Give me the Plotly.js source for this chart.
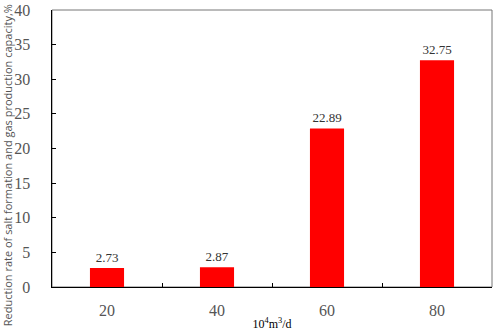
<!DOCTYPE html>
<html>
<head>
<meta charset="utf-8">
<script src="https://cdn.plot.ly/plotly-3.0.1.min.js"></script>
<style>html,body{margin:0;padding:0;background:#fff;}#chart{width:498px;height:331px;}</style>
</head>
<body>
<div id="chart"></div>
<script>
const categories = ["20", "40", "60", "80"];
const values = [2.73, 2.87, 22.89, 32.75];
const valueLabels = ["2.73", "2.87", "22.89", "32.75"];
const yTickValues = [0, 5, 10, 15, 20, 25, 30, 35, 40];
const yTitle = "Reduction rate of salt formation and gas production capacity,%";
const xTitle = "10<sup>4</sup>m<sup>3</sup>/d";

const serif = "Liberation Serif, Times New Roman, serif";

const trace = {
  type: "bar",
  x: categories,
  y: values,
  text: valueLabels,
  textposition: "outside",
  cliponaxis: false,
  textfont: {family: serif, size: 13, color: "#333"},
  marker: {color: "#ff0000", line: {width: 0}},
  width: 0.31,
  hoverinfo: "none"
};

const layout = {
  width: 498,
  height: 331,
  margin: {l: 52, r: 6, t: 10, b: 44},
  paper_bgcolor: "#fff",
  plot_bgcolor: "#fff",
  showlegend: false,
  xaxis: {
    type: "category",
    range: [-0.5, 3.5],
    showline: true,
    linecolor: "#000",
    linewidth: 1.2,
    ticks: "inside",
    tickson: "boundaries",
    ticklen: 4,
    tickcolor: "#000",
    ticklabelstandoff: 9,
    tickfont: {family: serif, size: 16, color: "#555"},
    showgrid: false,
    zeroline: false,
    title: {text: xTitle, font: {family: serif, size: 12, color: "#000"}, standoff: 4}
  },
  yaxis: {
    range: [0, 40],
    tickvals: yTickValues,
    showline: true,
    linecolor: "#000",
    linewidth: 1.5,
    ticks: "inside",
    ticklen: 4,
    tickcolor: "#000",
    ticklabelstandoff: 17,
    tickfont: {family: serif, size: 16, color: "#555"},
    showgrid: false,
    zeroline: false
  },
  annotations: [
    {text: yTitle, xref: "paper", yref: "paper", x: -0.102, y: 0.44, xanchor: "center", yanchor: "middle",
     textangle: -90, showarrow: false, font: {family: "Open Sans, sans-serif", size: 11, color: "#555"}}
  ],
  shapes: [
    {type: "rect", xref: "paper", yref: "paper", x0: 0, x1: 1, y0: 0, y1: 1, line: {color: "#777", width: 1}, layer: "below"}
  ]
};

Plotly.newPlot("chart", [trace], layout, {staticPlot: true, displayModeBar: false});
</script>
</body>
</html>
